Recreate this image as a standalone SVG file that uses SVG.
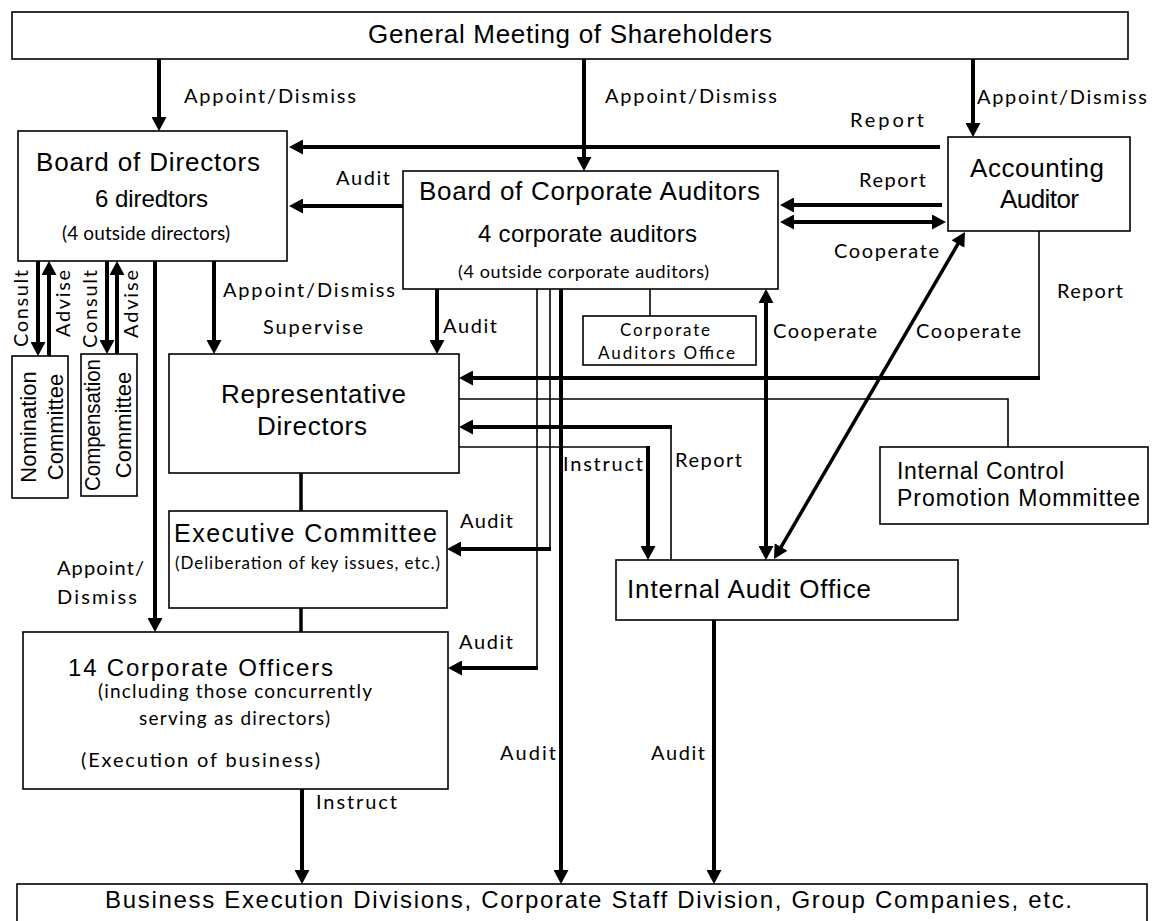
<svg xmlns="http://www.w3.org/2000/svg" width="1157" height="921" viewBox="0 0 1157 921">
<style>
.box{fill:#fff;stroke:#000;stroke-width:1.6}
.t{font-family:"Liberation Sans",Arial,sans-serif;fill:#000}
.l{font-family:Lato,"Open Sans",sans-serif;fill:#000;font-size:20px}
.thick{stroke:#000;stroke-width:4;fill:none}
.med{stroke:#000;stroke-width:3.5;fill:none}
.thin{stroke:#000;stroke-width:1.6;fill:none}
</style>
<defs>
<marker id="ah" viewBox="0 0 14 15" refX="1" refY="7.5" markerWidth="14" markerHeight="15" markerUnits="userSpaceOnUse" orient="auto-start-reverse">
<path d="M0,0 L14,7.5 L0,15 z" fill="#000"/>
</marker>
</defs>
<rect width="1157" height="921" fill="#fff"/>

<g id="connectors">
<path class="thick" d="M159,59 V118" marker-end="url(#ah)"/>
<path class="thick" d="M584,59 V158" marker-end="url(#ah)"/>
<path class="thick" d="M973,59 V124" marker-end="url(#ah)"/>
<path class="thick" d="M940,147 H302" marker-end="url(#ah)"/>
<path class="thick" d="M403,206 H302" marker-end="url(#ah)"/>
<path class="thick" d="M942,205 H793" marker-end="url(#ah)"/>
<path class="thick" d="M793,222 H933" marker-start="url(#ah)" marker-end="url(#ah)"/>
<path class="thick" d="M38,261 V343" marker-end="url(#ah)"/>
<path class="thick" d="M49,356 V274" marker-end="url(#ah)"/>
<path class="thick" d="M107,261 V341" marker-end="url(#ah)"/>
<path class="thick" d="M117,354 V274" marker-end="url(#ah)"/>
<path class="thick" d="M155,261 V619" marker-end="url(#ah)"/>
<path class="thick" d="M214,261 V341" marker-end="url(#ah)"/>
<path class="thick" d="M437,289 V341" marker-end="url(#ah)"/>
<path class="thin" d="M1039,231 V378"/>
<path class="thick" d="M1040,378 H472" marker-end="url(#ah)"/>
<path class="thin" d="M459,399 H1008 V447"/>
<path class="thin" d="M671,560 V427"/>
<path class="thick" d="M672,427 H472" marker-end="url(#ah)"/>
<path class="thin" d="M459,447 H648"/>
<path class="thick" d="M648,446 V547" marker-end="url(#ah)"/>
<path class="thick" d="M766,302 V547" marker-start="url(#ah)" marker-end="url(#ah)"/>
<path class="med" d="M958.4,243.2 L780.6,547.8" marker-start="url(#ah)" marker-end="url(#ah)"/>
<path class="thin" d="M537,289 V668"/>
<path class="thick" d="M538,668 H461" marker-end="url(#ah)"/>
<path class="thin" d="M550,289 V549"/>
<path class="thick" d="M551,549 H460" marker-end="url(#ah)"/>
<path class="thick" d="M561,289 V871" marker-end="url(#ah)"/>
<path class="thin" d="M650,289 V316"/>
<path class="med" d="M301,473 V511"/>
<path class="med" d="M301,608 V632"/>
<path class="thick" d="M302,789 V871" marker-end="url(#ah)"/>
<path class="thick" d="M714,620 V871" marker-end="url(#ah)"/>
</g>

<g id="labels">
<text class="l" x="184" y="103" textLength="172" lengthAdjust="spacing">Appoint/Dismiss</text>
<text class="l" x="605" y="103" textLength="172" lengthAdjust="spacing">Appoint/Dismiss</text>
<text class="l" x="977" y="104" textLength="170" lengthAdjust="spacing">Appoint/Dismiss</text>
<text class="l" x="850" y="127" textLength="74" lengthAdjust="spacing">Report</text>
<text class="l" x="336" y="185" textLength="54" lengthAdjust="spacing">Audit</text>
<text class="l" x="859" y="187" textLength="67" lengthAdjust="spacing">Report</text>
<text class="l" x="834" y="258" textLength="105" lengthAdjust="spacing">Cooperate</text>
<text class="l" x="223" y="297" textLength="172" lengthAdjust="spacing">Appoint/Dismiss</text>
<text class="l" x="1057" y="298" textLength="66" lengthAdjust="spacing">Report</text>
<text class="l" x="263" y="334" textLength="100" lengthAdjust="spacing">Supervise</text>
<text class="l" x="443" y="333" textLength="54" lengthAdjust="spacing">Audit</text>
<text class="l" x="773" y="338" textLength="104" lengthAdjust="spacing">Cooperate</text>
<text class="l" x="916" y="338" textLength="105" lengthAdjust="spacing">Cooperate</text>
<text class="l" x="563" y="471" textLength="80" lengthAdjust="spacing">Instruct</text>
<text class="l" x="675" y="467" textLength="67" lengthAdjust="spacing">Report</text>
<text class="l" x="460" y="528" textLength="53" lengthAdjust="spacing">Audit</text>
<text class="l" x="57" y="575" textLength="87" lengthAdjust="spacing">Appoint/</text>
<text class="l" x="57" y="604" textLength="80" lengthAdjust="spacing">Dismiss</text>
<text class="l" x="459" y="649" textLength="54" lengthAdjust="spacing">Audit</text>
<text class="l" x="500" y="760" textLength="56" lengthAdjust="spacing">Audit</text>
<text class="l" x="651" y="760" textLength="54" lengthAdjust="spacing">Audit</text>
<text class="l" x="316" y="809" textLength="81" lengthAdjust="spacing">Instruct</text>
<text class="l" transform="translate(28,347) rotate(-90)" textLength="77" lengthAdjust="spacing">Consult</text>
<text class="l" transform="translate(70,337) rotate(-90)" textLength="67" lengthAdjust="spacing">Advise</text>
<text class="l" transform="translate(97,348) rotate(-90)" textLength="78" lengthAdjust="spacing">Consult</text>
<text class="l" transform="translate(138,338) rotate(-90)" textLength="68" lengthAdjust="spacing">Advise</text>
</g>

<g id="gm">
<rect class="box" x="12" y="12" width="1116" height="47"/>
<text class="t" x="368" y="43" font-size="26" textLength="404" lengthAdjust="spacing">General Meeting of Shareholders</text>
</g>
<g id="bod">
<rect class="box" x="18" y="131" width="269" height="130"/>
<text class="t" x="36" y="171" font-size="26" textLength="224" lengthAdjust="spacing">Board of Directors</text>
<text class="t" x="95" y="207" font-size="24" textLength="113" lengthAdjust="spacing">6 diredtors</text>
<text class="l" x="62" y="240" style="font-size:19px" textLength="168" lengthAdjust="spacing">(4 outside directors)</text>
</g>
<g id="boca">
<rect class="box" x="403" y="171" width="375" height="118"/>
<text class="t" x="419" y="200" font-size="26" textLength="341" lengthAdjust="spacing">Board of Corporate Auditors</text>
<text class="t" x="478" y="242" font-size="24" textLength="219" lengthAdjust="spacing">4 corporate auditors</text>
<text class="l" x="458" y="278" style="font-size:18px" textLength="251" lengthAdjust="spacing">(4 outside corporate auditors)</text>
</g>
<g id="aa">
<rect class="box" x="948" y="137" width="182" height="94"/>
<text class="t" x="970" y="177" font-size="26" textLength="134" lengthAdjust="spacing">Accounting</text>
<text class="t" x="1000" y="208" font-size="26" textLength="79" lengthAdjust="spacing">Auditor</text>
</g>
<g id="nom">
<rect class="box" x="12" y="356" width="56" height="142"/>
<text class="t" font-size="22" text-anchor="middle" transform="translate(36,427) rotate(-90)">Nomination</text>
<text class="t" font-size="22" text-anchor="middle" transform="translate(63,427) rotate(-90)">Committee</text>
</g>
<g id="comp">
<rect class="box" x="81" y="354" width="56" height="142"/>
<text class="t" font-size="22" text-anchor="middle" transform="translate(100,425) rotate(-90)" textLength="132" lengthAdjust="spacingAndGlyphs">Compensation</text>
<text class="t" font-size="22" text-anchor="middle" transform="translate(131,425) rotate(-90)">Committee</text>
</g>
<g id="rd">
<rect class="box" x="169" y="354" width="290" height="119"/>
<text class="t" x="221" y="403" font-size="26" textLength="185" lengthAdjust="spacing">Representative</text>
<text class="t" x="257" y="435" font-size="26" textLength="110" lengthAdjust="spacing">Directors</text>
</g>
<g id="cao">
<rect class="box" x="583" y="316" width="173" height="49"/>
<text class="l" x="620" y="336" style="font-size:17px" textLength="90" lengthAdjust="spacing">Corporate</text>
<text class="l" x="598" y="359" style="font-size:17px" textLength="137" lengthAdjust="spacing">Auditors Office</text>
</g>
<g id="icpm">
<rect class="box" x="880" y="447" width="268" height="77"/>
<text class="t" x="897" y="479" font-size="23" textLength="167" lengthAdjust="spacing">Internal Control</text>
<text class="t" x="897" y="506" font-size="23" textLength="243" lengthAdjust="spacing">Promotion Mommittee</text>
</g>
<g id="ec">
<rect class="box" x="169" y="511" width="278" height="97"/>
<text class="t" x="174" y="542" font-size="25" textLength="263" lengthAdjust="spacing">Executive Committee</text>
<text class="l" x="175" y="569" style="font-size:17px" textLength="265" lengthAdjust="spacing">(Deliberation of key issues, etc.)</text>
</g>
<g id="iao">
<rect class="box" x="616" y="560" width="342" height="60"/>
<text class="t" x="627" y="598" font-size="26" textLength="244" lengthAdjust="spacing">Internal Audit Office</text>
</g>
<g id="co">
<rect class="box" x="23" y="632" width="425" height="157"/>
<text class="t" x="68" y="676" font-size="24" textLength="265" lengthAdjust="spacing">14 Corporate Officers</text>
<text class="l" x="98" y="698" style="font-size:19px" textLength="274" lengthAdjust="spacing">(including those concurrently</text>
<text class="l" x="139" y="725" style="font-size:19px" textLength="191" lengthAdjust="spacing">serving as directors)</text>
<text class="l" x="81" y="767" textLength="239" lengthAdjust="spacing">(Execution of business)</text>
</g>
<g id="bed">
<rect class="box" x="17" y="884" width="1130" height="45"/>
<text class="t" x="105" y="908" font-size="24" textLength="967" lengthAdjust="spacing">Business Execution Divisions, Corporate Staff Division, Group Companies, etc.</text>
</g>
</svg>
